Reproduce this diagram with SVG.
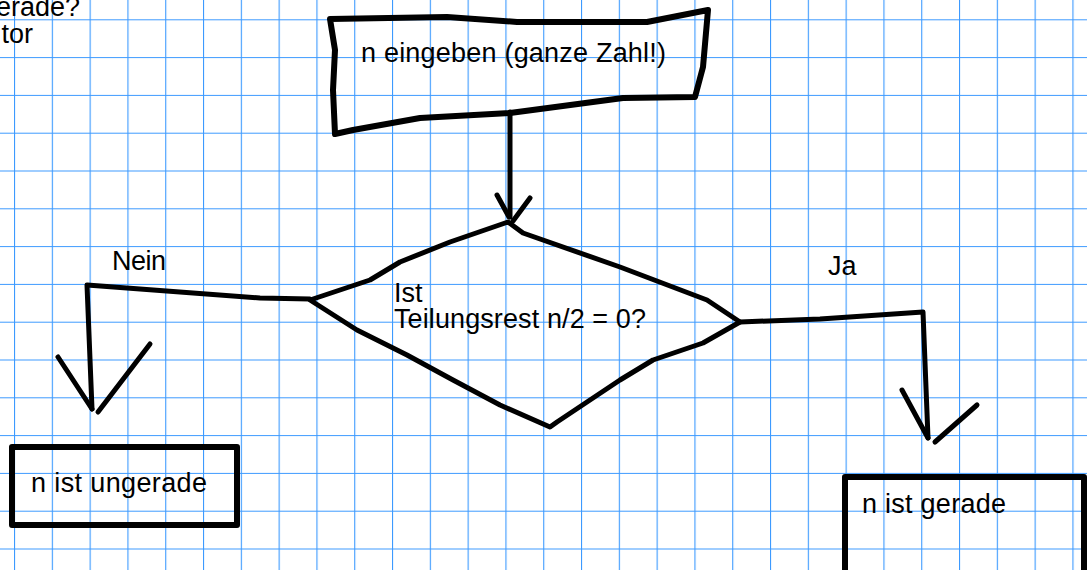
<svg xmlns="http://www.w3.org/2000/svg" width="1087" height="570" viewBox="0 0 1087 570">
<defs>
<pattern id="grid" x="14" y="19.3" width="37.8" height="37.8" patternUnits="userSpaceOnUse">
<path d="M0,0 L0,37.8 M0,0 L37.8,0" fill="none" stroke="#3d9aff" stroke-width="2.2"/>
</pattern>
</defs>
<style>
.ink{fill:none;stroke:#000;stroke-width:6;stroke-linejoin:round;stroke-linecap:round}
.con{fill:none;stroke:#000;stroke-width:5;stroke-linejoin:round;stroke-linecap:round}
.t{font-family:"Liberation Sans",Arial,sans-serif;font-size:27px;fill:#000}
</style>
<rect x="0" y="0" width="1087" height="570" fill="#fff"/>
<rect x="0" y="0" width="1087" height="570" fill="url(#grid)"/>
<g id="title-fragment">
<text class="t" x="80" y="16" text-anchor="end">erade?</text>
<text class="t" x="33" y="43" text-anchor="end">tor</text>
</g>
<g id="connectors">
<path class="con" d="M510,112 L510,217"/>
<path class="con" d="M497,195 L509,217 M513,221 L530,198"/>
<path class="con" d="M310,299 L260,298 L87,285 L92,409"/>
<path class="con" d="M58,357 L92,409 M98,412 L150,344"/>
<path class="con" d="M740,322 L820,319 L923,312 L928,438"/>
<path class="con" d="M902,390 L928,438 M935,442 L977,405"/>
<text class="t" x="112" y="270" font-size="26" textLength="54" lengthAdjust="spacing">Nein</text>
<text class="t" x="828" y="275" font-size="26">Ja</text>
</g>
<g id="input">
<path class="ink" d="M330,19 L335,50 L333,90 L335,134 L353,130 L420,118 L510,113 L623,98 L695,97 L703,67 L708,10 L647,22 L517,22 L447,17 Z"/>
<text class="t" x="361" y="62" font-size="27.5" textLength="305" lengthAdjust="spacing">n eingeben (ganze Zahl!)</text>
</g>
<g id="decision">
<path class="con" d="M508,222 L450,242 L400,262 L370,280 L310,300 L357,330 L407,355 L453,380 L500,405 L550,427 L557,422 L620,380 L653,360 L703,343 L740,322 L707,300 L620,267 L523,233 Z"/>
<text class="t" x="394" y="302">Ist</text>
<text class="t" x="394" y="328" textLength="252" lengthAdjust="spacing">Teilungsrest n/2 = 0?</text>
</g>
<g id="odd">
<rect class="ink" x="12" y="447" width="225" height="78"/>
<text class="t" x="31" y="491.5" font-size="27.5" textLength="176" lengthAdjust="spacing">n ist ungerade</text>
</g>
<g id="even">
<rect class="ink" x="845" y="477" width="239" height="120"/>
<text class="t" x="862" y="513" font-size="27.5" textLength="144" lengthAdjust="spacing">n ist gerade</text>
</g>
</svg>
